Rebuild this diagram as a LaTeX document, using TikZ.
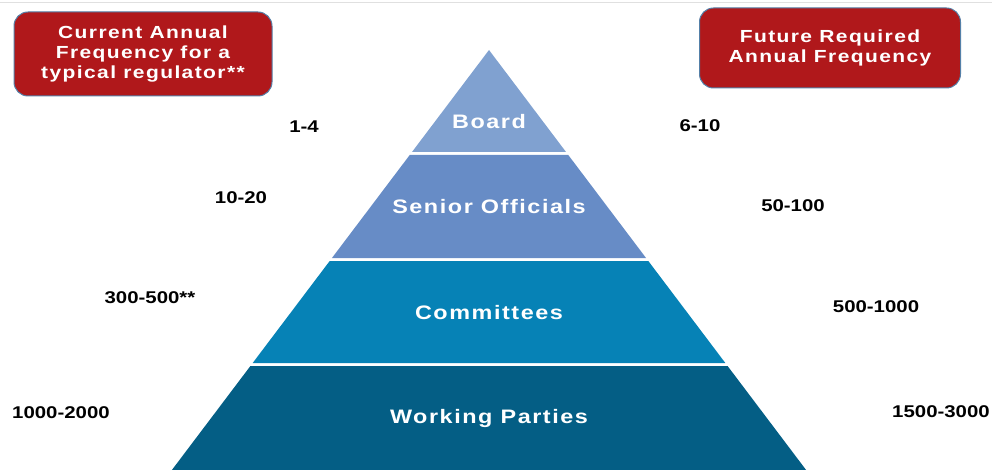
\documentclass[tikz,border=0pt]{standalone}
\usepackage{fontspec}
\newfontfamily\labelfont[FakeStretch=1.2,LetterSpace=8]{Liberation Sans}
\newfontfamily\numfont[FakeStretch=1.2]{Liberation Sans}
\usepackage{tikz}
\usetikzlibrary{positioning}
\usepackage{xcolor}
\definecolor{boxred}{RGB}{176,24,27}
\definecolor{boxedge}{RGB}{84,128,168}
\definecolor{boardblue}{RGB}{128,161,208}
\definecolor{seniorblue}{RGB}{103,140,198}
\definecolor{cttblue}{RGB}{6,130,182}
\definecolor{partyblue}{RGB}{4,94,133}

\begin{document}
\begin{tikzpicture}[x=1pt, y=-1pt,
  freqbox/.style={fill=boxred, draw=boxedge, line width=1pt, rounded corners=14pt,
    align=center, text=white, inner sep=0pt,
    font={\labelfont\bfseries\fontsize{17.5}{20}\selectfont}},
  layerlabel/.style={text=white, font={\labelfont\bfseries\fontsize{19.5}{22}\selectfont}},
  numlabel/.style={font={\numfont\bfseries\fontsize{17}{18}\selectfont}}]
  \useasboundingbox (0,0) rectangle (992,470);
  \draw[black!12, line width=1pt] (0,3) -- (992,3);
  % Pyramid layers (apex at 489/50)
  \foreach \ytop/\ybot/\ly/\col/\name/\txt in {
      50/152/122/boardblue/board/Board,
      155/258/207/seniorblue/senior/Senior Officials,
      261/363/313/cttblue/ctt/Committees,
      366/470/418/partyblue/party/Working Parties} {
    \fill[\col] ({489-0.755*(\ytop-50)},\ytop) -- ({489+0.755*(\ytop-50)},\ytop)
      -- ({489+0.755*(\ybot-50)},\ybot) -- ({489-0.755*(\ybot-50)},\ybot) -- cycle;
    \node[layerlabel] (\name) at (489,\ly) {\txt};
  }
  % Frequency headers
  \node[freqbox, minimum width=258pt, minimum height=84pt] (current) at (143,54)
    {Current Annual\\Frequency for a\\typical regulator**};
  \node[freqbox, minimum width=261pt, minimum height=80pt] (future) at (830,48)
    {Future Required\\Annual Frequency};
  % Current (left) and future (right) numbers
  \foreach \n/\x/\y/\t in {1/304/127/1-4, 2/241/198/10-20, 3/150/298/300-500**, 4/61/413/1000-2000} {
    \node[numlabel] (cur\n) at (\x,\y) {\t};
  }
  \foreach \n/\x/\y/\t in {1/700/126/6-10, 2/793/206/50-100, 3/876/307/500-1000, 4/941/412/1500-3000} {
    \node[numlabel] (fut\n) at (\x,\y) {\t};
  }
\end{tikzpicture}
\end{document}
